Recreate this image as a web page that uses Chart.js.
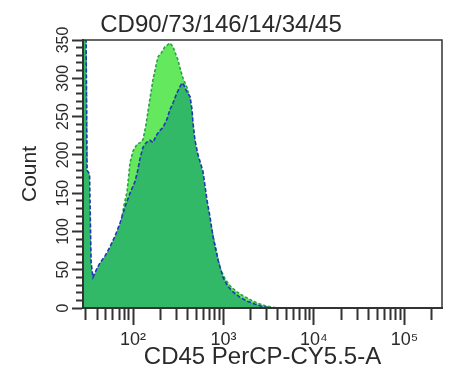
<!DOCTYPE html>
<html><head><meta charset="utf-8">
<script src="https://cdn.jsdelivr.net/npm/chart.js@4.4.0/dist/chart.umd.min.js"></script>
<style>html,body{margin:0;padding:0;background:#fff;}canvas{display:block;}</style>
</head><body>
<canvas id="c" width="462" height="391"></canvas>
<script>
const chartTitle = 'CD90/73/146/14/34/45';
const xAxisTitle = 'CD45 PerCP-CY5.5-A';
const yAxisTitle = 'Count';

const xMin = 28, xMax = 260000;
const yMin = 0, yMax = 350;

const xMajorTicks = [100, 1000, 10000, 100000];
const xMajorLabels = ['10\u00B2', '10\u00B3', '10\u2074', '10\u2075'];
const xMinorTicks = [30, 40, 50, 60, 70, 80, 90,
  200, 300, 400, 500, 600, 700, 800, 900,
  2000, 3000, 4000, 5000, 6000, 7000, 8000, 9000,
  20000, 30000, 40000, 50000, 60000, 70000, 80000, 90000,
  200000];
const yMajorTicks = [0, 50, 100, 150, 200, 250, 300, 350];
const yMinorTicks = [10, 20, 30, 40, 60, 70, 80, 90, 110, 120, 130, 140, 160, 170, 180, 190,
  210, 220, 230, 240, 260, 270, 280, 290, 310, 320, 330, 340];

// Series 1 (dark green, blue outline)
const darkX = [28, 30.2, 31.0, 33.1, 34.4, 36.1, 40.0, 43.2, 49.1, 55.7, 63.3, 71.9, 81.6, 92.7, 105, 111, 120, 129, 140, 154, 166, 180, 199, 215, 238, 256, 277, 306, 331, 348, 365, 384, 405, 427, 449, 460, 484, 523, 594, 657, 709, 766, 869, 987, 1121, 1274, 1522, 1819, 2229, 2664, 3265];
const darkY = [372, 372, 180, 175, 60, 40, 52, 59, 68, 80, 94, 111, 132, 150, 165, 176, 196, 210, 216, 219, 216, 225, 232, 236, 247, 259, 268, 281, 289, 294, 291, 285, 280, 276, 259, 242, 219, 200, 178, 141, 119, 93, 63, 40, 28, 21, 14, 9, 5, 2, 0];

// Series 2 (light green, dashed outline)
const lightX = [28, 30.2, 31.0, 32.6, 34.4, 36.1, 43.2, 55.7, 71.9, 79.5, 85.9, 92.7, 100, 111, 120, 129, 139, 150, 166, 180, 189, 208, 225, 256, 277, 291, 314, 331, 357, 395, 427, 484, 550, 625, 709, 806, 915, 1039, 1180, 1410, 1643, 1963, 2345, 2875, 3436, 3900];
const lightY = [372, 372, 165, 141, 43, 34, 52, 73, 104, 134, 152, 190, 205, 214, 216, 220, 239, 265, 298, 317, 328, 334, 341, 346, 341, 334, 324, 313, 300, 288, 272, 213, 178, 144, 112, 82, 52, 38, 29, 21, 16, 11, 6.5, 3, 1, 0];

const FONT = "'Liberation Sans', Arial, sans-serif";
const INK = '#2a2a2a';

const toPts = (xs, ys) => xs.map((x, i) => ({x: x, y: ys[i]}));

const framePlugin = {
  id: 'frame',
  afterDraw(chart) {
    const a = chart.chartArea, ctx = chart.ctx;
    ctx.save();
    ctx.strokeStyle = '#333';
    ctx.lineWidth = 1.5;
    ctx.beginPath();
    ctx.moveTo(a.left, a.top);
    ctx.lineTo(a.right, a.top);
    ctx.lineTo(a.right, a.bottom);
    ctx.stroke();
    ctx.restore();
  }
};

new Chart(document.getElementById('c'), {
  type: 'line',
  data: {
    datasets: [
      {
        label: 'dark',
        data: toPts(darkX, darkY),
        borderColor: '#2436b8',
        borderWidth: 1.6,
        borderDash: [4, 2],
        backgroundColor: '#31b968',
        fill: 'origin',
        pointRadius: 0,
        tension: 0,
        order: 0
      },
      {
        label: 'light',
        data: toPts(lightX, lightY),
        borderColor: '#2c9f48',
        borderWidth: 1.6,
        borderDash: [3, 2],
        backgroundColor: '#64e85d',
        fill: 'origin',
        pointRadius: 0,
        tension: 0,
        order: 1
      }
    ]
  },
  options: {
    responsive: false,
    animation: false,
    devicePixelRatio: 1,
    layout: {padding: {left: 0, right: 20, top: 0, bottom: 0}},
    plugins: {
      legend: {display: false},
      tooltip: {enabled: false},
      title: {
        display: true,
        text: chartTitle,
        color: INK,
        font: {family: FONT, size: 24, weight: 'normal'},
        padding: {top: 11, bottom: 0.2}
      }
    },
    scales: {
      x: {
        type: 'logarithmic',
        position: 'bottom',
        weight: 1,
        min: xMin, max: xMax,
        afterBuildTicks: s => { s.ticks = xMajorTicks.map(v => ({value: v})); },
        afterFit: s => { s.height = 83; },
        ticks: {
          autoSkip: false, minRotation: 0, maxRotation: 0,
          color: INK, padding: 4,
          font: {family: FONT, size: 18},
          callback: v => { const i = xMajorTicks.indexOf(v); return i >= 0 ? xMajorLabels[i] : ''; }
        },
        grid: {drawOnChartArea: false, tickLength: 17, tickWidth: 2, tickColor: '#333'},
        border: {display: true, width: 2, color: '#333', z: 1},
        title: {display: true, text: xAxisTitle, color: INK, font: {family: FONT, size: 24}, padding: {top: 0, bottom: 19}}
      },
      xMinor: {
        type: 'logarithmic',
        position: 'bottom',
        weight: 0,
        min: xMin, max: xMax,
        afterBuildTicks: s => { s.ticks = xMinorTicks.map(v => ({value: v})); },
        afterFit: s => { s.height = 0; },
        ticks: {display: false, autoSkip: false},
        grid: {drawOnChartArea: false, tickLength: 12, tickWidth: 2, tickColor: '#333'},
        border: {display: false}
      },
      y: {
        type: 'linear',
        position: 'left',
        weight: 1,
        min: yMin, max: yMax,
        afterBuildTicks: s => { s.ticks = yMajorTicks.map(v => ({value: v})); },
        afterFit: s => { s.width = 83; },
        ticks: {
          autoSkip: false, minRotation: 90, maxRotation: 90, crossAlign: 'center',
          color: INK, padding: -5,
          font: {family: FONT, size: 16}
        },
        grid: {drawOnChartArea: false, tickLength: 11, tickWidth: 2, tickColor: '#333'},
        border: {display: true, width: 2, color: '#333', z: 1},
        title: {display: true, text: yAxisTitle, color: INK, font: {family: FONT, size: 21}, padding: {top: 18, bottom: 0}}
      },
      yMinor: {
        type: 'linear',
        position: 'left',
        weight: 0,
        min: yMin, max: yMax,
        afterBuildTicks: s => { s.ticks = yMinorTicks.map(v => ({value: v})); },
        afterFit: s => { s.width = 0; },
        ticks: {display: false, autoSkip: false},
        grid: {drawOnChartArea: false, tickLength: 7, tickWidth: 2, tickColor: '#333'},
        border: {display: false}
      }
    }
  },
  plugins: [framePlugin]
});
</script>
</body></html>
